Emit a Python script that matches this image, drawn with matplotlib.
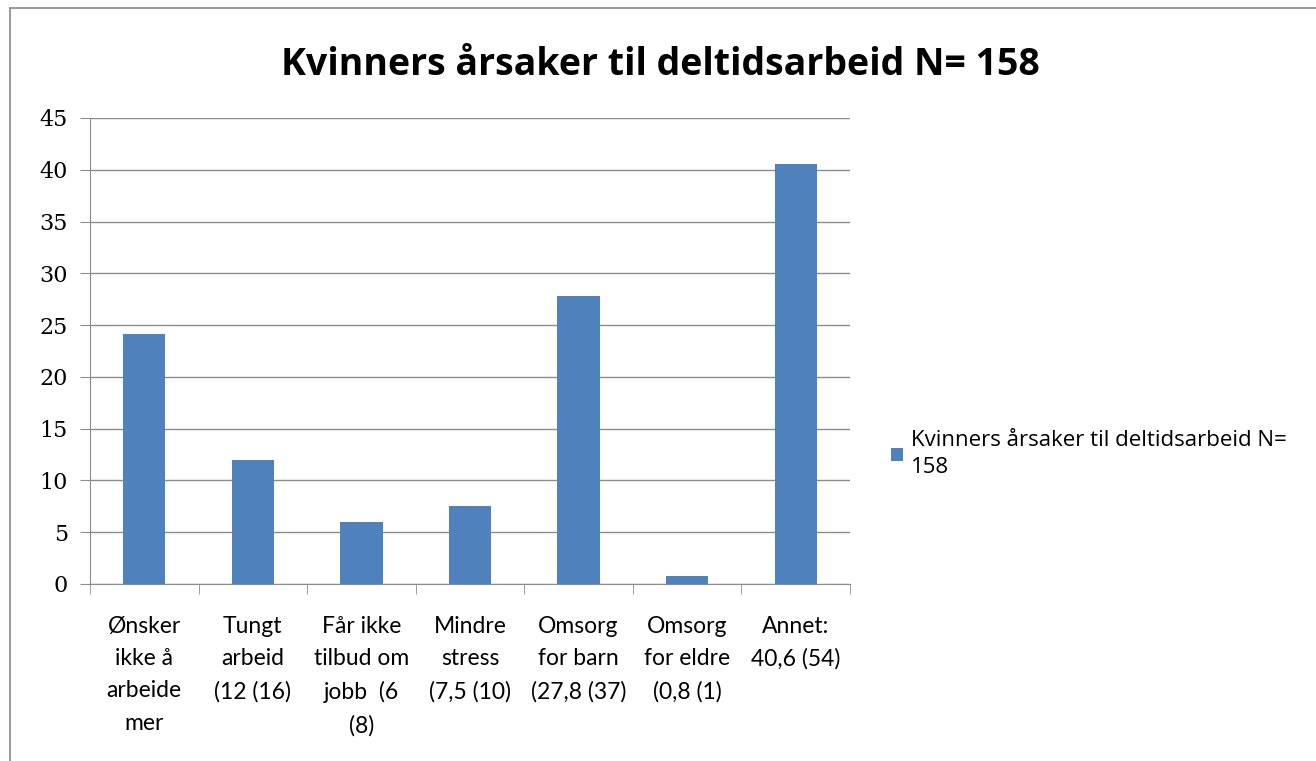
import matplotlib.pyplot as plt
from matplotlib.lines import Line2D
import numpy as np

title = "Kvinners årsaker til deltidsarbeid N= 158"
categories = ["Ønsker\nikke å\narbeide\nmer",
              "Tungt\narbeid\n(12 (16)",
              "Får ikke\ntilbud om\njobb  (6\n(8)",
              "Mindre\nstress\n(7,5 (10)",
              "Omsorg\nfor barn\n(27,8 (37)",
              "Omsorg\nfor eldre\n(0,8 (1)",
              "Annet:\n40,6 (54)"]
values = [24.1, 12, 6, 7.5, 27.8, 0.8, 40.6]
yticks = [0, 5, 10, 15, 20, 25, 30, 35, 40, 45]

bar_color = "#4f81bd"
grid_color = "#8c8c8c"

fig = plt.figure(figsize=(13.16, 7.61), dpi=100)
ax = fig.add_axes([90/1316, 1-584/761, 760/1316, 466/761])

x = np.arange(len(values))
ax.bar(x, values, width=0.39, color=bar_color, zorder=3,
       label="Kvinners årsaker til deltidsarbeid N=\n158")

ax.set_xlim(-0.5, len(values) - 0.5)
ax.set_ylim(0, 45)
ax.set_yticks(yticks)
ax.set_yticklabels([str(t) for t in yticks], fontfamily="DejaVu Serif", fontsize=16)
ax.yaxis.grid(True, color=grid_color, linewidth=1, zorder=0)
ax.tick_params(axis="y", length=7, color=grid_color, pad=9)

# x labels centred in each category, tick marks between categories
ax.set_xticks(x)
ax.set_xticklabels(categories, fontfamily="Lato", fontsize=16.5, linespacing=1.66)
ax.tick_params(axis="x", length=0, pad=23)
ax.set_xticks(np.arange(-0.5, len(values)), minor=True)
ax.tick_params(axis="x", which="minor", length=7, color=grid_color)
for lbl in ax.get_xticklabels():
    lbl.set_verticalalignment("top")

for s in ["top", "right"]:
    ax.spines[s].set_visible(False)
for s in ["left", "bottom"]:
    ax.spines[s].set_color(grid_color)

fig.text(660/1316, 1-65/761, title, ha="center", va="center",
         fontsize=27, fontweight="bold", fontfamily="Open Sans")

leg = fig.legend(loc="upper left", bbox_to_anchor=(882/1316, 1-421/761),
                 frameon=False, prop={"family": "Open Sans", "size": 16},
                 handlelength=0.55, handleheight=0.55, handletextpad=0.35,
                 borderaxespad=0)
for t in leg.get_texts():
    t.set_linespacing(1.4)

# outer chart border (left and top edges only visible)
fig.add_artist(Line2D([10/1316, 10/1316], [0, 1-8/761], transform=fig.transFigure,
                      color="#888888", linewidth=1.2))
fig.add_artist(Line2D([10/1316, 1], [1-8/761, 1-8/761], transform=fig.transFigure,
                      color="#888888", linewidth=1.2))

fig.savefig("out.png", dpi=100)
